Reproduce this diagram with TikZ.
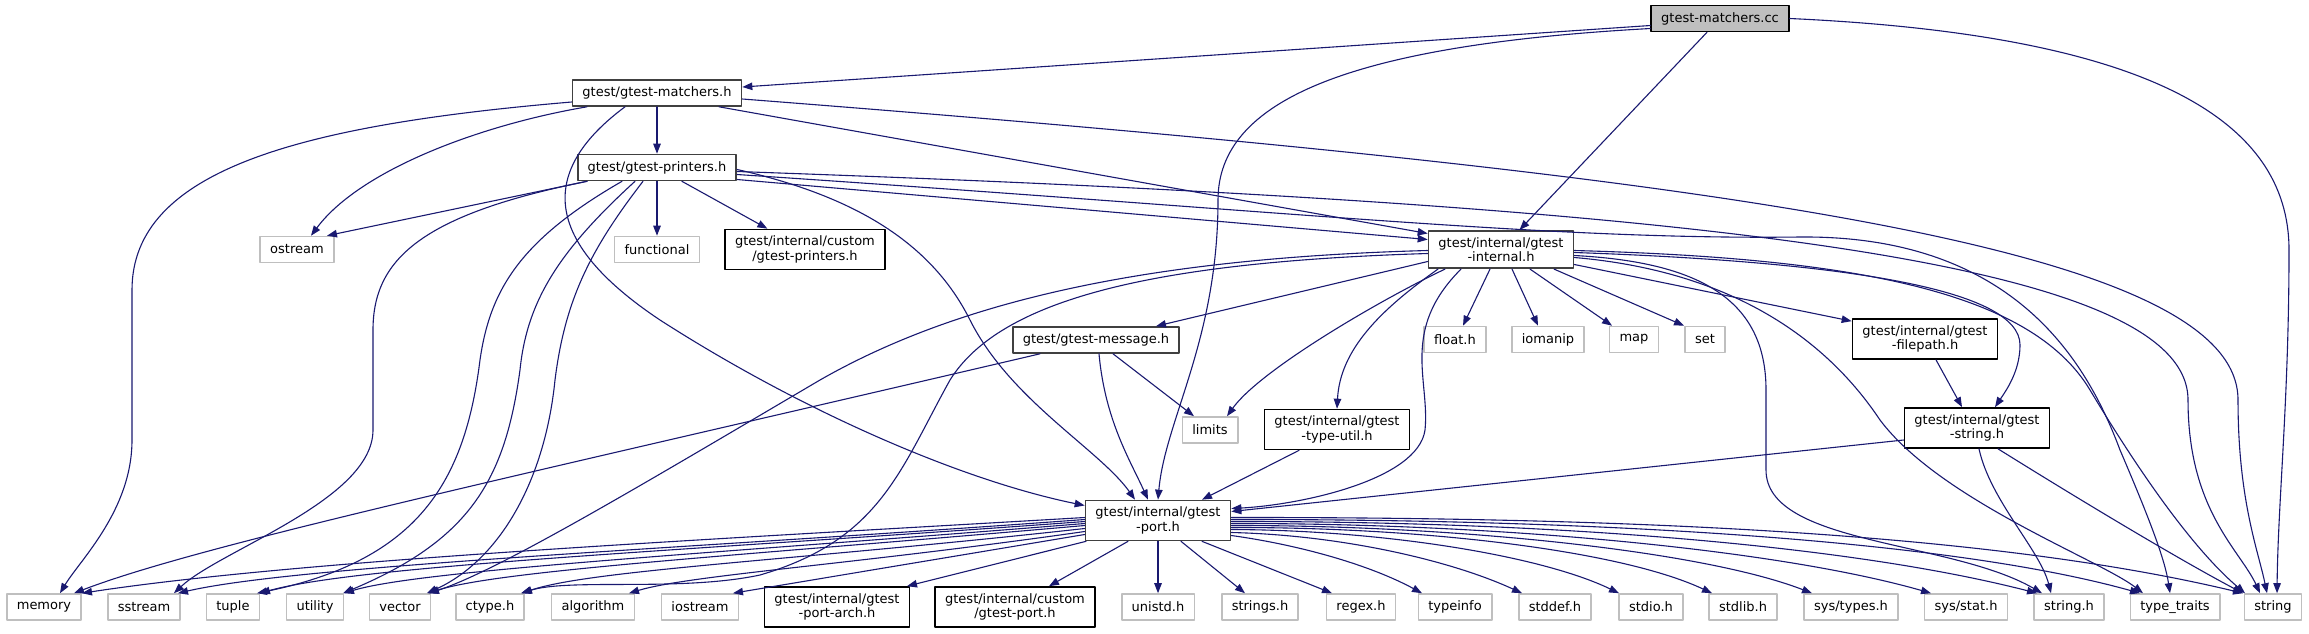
\documentclass[tikz,border=0pt]{standalone}
\usepackage{fontspec}
\setmainfont{DejaVu Sans}
\usetikzlibrary{arrows.meta}
\definecolor{edgeblue}{HTML}{191970}
\definecolor{boxgray}{HTML}{BFBFBF}
\definecolor{docgray}{HTML}{404040}
\begin{document}
\begin{tikzpicture}[line cap=round,line join=round,>={Triangle[length=10pt,width=7.5pt]},x=1pt,y=-1pt,
		every node/.style={font=\fontsize{13}{14.5}\selectfont,inner xsep=10pt,inner ysep=6.5pt,minimum height=26pt,align=center,line width=1.6pt},
		hdr/.style={draw=docgray,fill=white},
		leaf/.style={draw=black,fill=white},
		sys/.style={draw=boxgray,fill=white},
		root/.style={draw=black,fill=boxgray},
		dep/.style={draw=edgeblue,line width=1.1pt,->}]
		\useasboundingbox (0,0) rectangle (2309,633);
		% top rows
		\node[root] (mcc) at (1720,18.5) {gtest-matchers.cc};
		\node[hdr] (mh) at (657,93) {gtest/gtest-matchers.h};
		\node[hdr] (pr) at (657,167.5) {gtest/gtest-printers.h};
		\node[sys] (ostream) at (297,249.5) {ostream};
		\node[sys] (functional) at (657,249.5) {functional};
		\node[leaf] (cpr) at (805,249.5) {gtest/internal/custom\\/gtest-printers.h};
		\node[hdr] (ih) at (1501,249.5) {gtest/internal/gtest\\-internal.h};
		\node[hdr] (msg) at (1096,340) {gtest/gtest-message.h};
		\node[sys] (float) at (1455,339.5) {float.h};
		\node[sys] (iomanip) at (1548,339.5) {iomanip};
		\node[sys] (map) at (1634,339.5) {map};
		\node[sys] (set) at (1705,339.5) {set};
		\node[leaf] (fp) at (1925,339) {gtest/internal/gtest\\-filepath.h};
		\node[sys] (limits) at (1210,430) {limits};
		\node[leaf] (tu) at (1337,429.5) {gtest/internal/gtest\\-type-util.h};
		\node[leaf] (gs) at (1977,428) {gtest/internal/gtest\\-string.h};
		\node[hdr] (ph) at (1158,520.5) {gtest/internal/gtest\\-port.h};
		% bottom row
		\node[sys] (memory) at (44,607) {memory};
		\node[sys] (sstream) at (144,607) {sstream};
		\node[sys] (tuple) at (233,607) {tuple};
		\node[sys] (utility) at (315,607) {utility};
		\node[sys] (vector) at (400,607) {vector};
		\node[sys] (ctype) at (490,607) {ctype.h};
		\node[sys] (algorithm) at (593,607) {algorithm};
		\node[sys] (iostream) at (700,607) {iostream};
		\node[leaf] (pa) at (837,607) {gtest/internal/gtest\\-port-arch.h};
		\node[leaf] (cport) at (1015,607) {gtest/internal/custom\\/gtest-port.h};
		\node[sys] (unistd) at (1158,607) {unistd.h};
		\node[sys] (strings) at (1260,607) {strings.h};
		\node[sys] (regex) at (1361,607) {regex.h};
		\node[sys] (typeinfo) at (1455,607) {typeinfo};
		\node[sys] (stddef) at (1555,607) {stddef.h};
		\node[sys] (stdio) at (1651,607) {stdio.h};
		\node[sys] (stdlib) at (1743,607) {stdlib.h};
		\node[sys] (systypes) at (1851,607) {sys/types.h};
		\node[sys] (sysstat) at (1966,607) {sys/stat.h};
		\node[sys] (sh) at (2069,607) {string.h};
		\node[sys] (tt) at (2175,607) {type\_traits};
		\node[sys] (str) at (2273,607) {string};
		% gtest-matchers.cc
		\draw[dep] ([yshift=-7pt]mcc.west) -- ([yshift=6pt]mh.east);
		\draw[dep] ([yshift=-10pt]mcc.west) .. controls (1350,45) and (1218,100) .. (1218,200) .. controls (1218,340) and (1165,420) .. (ph.north);
		\draw[dep] (mcc) -- (ih);
		\draw[dep] (mcc.east) .. controls (2150,35) and (2289,120) .. (2289,250) .. controls (2289,400) and (2278,500) .. ([xshift=4pt]str.north);
		% gtest-matchers.h
		\draw[dep] (mh) -- (pr);
		\draw[dep] ([xshift=-70pt]mh.south) .. controls (480,125) and (360,170) .. ([xshift=14pt]ostream.north);
		\draw[dep] ([yshift=-9pt]mh.west) .. controls (300,125) and (132,170) .. (132,290) -- (132,440) .. controls (132,510) and (80,560) .. ([xshift=16pt]memory.north);
		\draw[dep] ([xshift=-32pt]mh.south) .. controls (540,170) and (540,240) .. (660,320) .. controls (800,410) and (960,480) .. ([yshift=15pt]ph.west);
		\draw[dep] ([xshift=62pt]mh.south) -- ([yshift=16pt]ih.west);
		\draw[dep] ([yshift=-6pt]mh.east) .. controls (1750,177) and (2238,250) .. (2238,400) .. controls (2238,500) and (2258,550) .. ([xshift=-6pt]str.north);
		% gtest-printers.h
		\draw[dep] ([xshift=-70pt]pr.south) -- ([xshift=30pt]ostream.north);
		\draw[dep] (pr) -- (functional);
		\draw[dep] (pr) -- (cpr);
		\draw[dep] ([yshift=-12pt]pr.east) -- ([yshift=10pt]ih.west);
		\draw[dep] ([yshift=-2pt]pr.east) .. controls (850,195) and (930,240) .. (970,320) .. controls (1010,400) and (1100,450) .. ([xshift=-23pt]ph.north);
		\draw[dep] ([yshift=-4pt]pr.east) .. controls (1700,205) and (2188,260) .. (2188,400) .. controls (2188,510) and (2240,550) .. ([xshift=-13pt]str.north);
		\draw[dep] ([yshift=-7pt]pr.east) .. controls (1300,212) and (1550,240) .. (1800,237) .. controls (2020,235) and (2090,370) .. (2120,450) .. controls (2150,520) and (2165,560) .. ([xshift=-5pt]tt.north);
		\draw[dep] ([xshift=-70pt]pr.south) .. controls (420,215) and (373,260) .. (373,330) -- (373,430) .. controls (373,500) and (220,550) .. ([xshift=30pt]sstream.north);
		\draw[dep] ([xshift=-35pt]pr.south) .. controls (520,240) and (490,290) .. (480,360) .. controls (465,480) and (420,560) .. ([xshift=24pt]tuple.north);
		\draw[dep] ([xshift=-22pt]pr.south) .. controls (560,250) and (527,300) .. (520,370) .. controls (505,480) and (470,540) .. ([xshift=28pt]utility.north);
		\draw[dep] ([xshift=-14pt]pr.south) .. controls (590,250) and (565,300) .. (555,380) .. controls (545,480) and (500,560) .. ([xshift=27pt]vector.north);
		% gtest-internal.h
		\draw[dep] ([yshift=-12pt]ih.west) -- ([xshift=60pt]msg.north);
		\draw[dep] ([xshift=-56pt]ih.south) .. controls (1380,300) and (1260,370) .. ([xshift=17pt]limits.north);
		\draw[dep] ([xshift=-63pt]ih.south) .. controls (1380,310) and (1340,350) .. (tu.north);
		\draw[dep] ([xshift=-40pt]ih.south) .. controls (1400,330) and (1430,380) .. (1425,430) .. controls (1418,480) and (1300,505) .. ([yshift=12pt]ph.east);
		\draw[dep] ([yshift=-1pt]ih.west) .. controls (1150,258) and (960,300) .. (820,380) .. controls (650,480) and (500,570) .. ([xshift=29pt]vector.north);
		\draw[dep] ([yshift=-4pt]ih.west) .. controls (1150,262) and (1000,300) .. (950,380) .. controls (900,470) and (880,540) .. (760,575) .. controls (680,592) and (570,578) .. ([xshift=31pt]ctype.north);
		\draw[dep] ([xshift=-11pt]ih.south) -- ([xshift=8pt]float.north);
		\draw[dep] ([xshift=11pt]ih.south) -- ([xshift=-10pt]iomanip.north);
		\draw[dep] ([xshift=29pt]ih.south) -- ([xshift=-22pt]map.north);
		\draw[dep] ([xshift=53pt]ih.south) -- ([xshift=-21pt]set.north);
		\draw[dep] ([yshift=-15pt]ih.east) -- ([yshift=-3pt]fp.north west);
		\draw[dep] ([yshift=-3pt]ih.east) .. controls (1850,262) and (2020,290) .. (2020,345) .. controls (2020,372) and (2005,392) .. ([xshift=18pt]gs.north);
		\draw[dep] ([yshift=-6pt]ih.east) .. controls (1700,262) and (1766,300) .. (1766,390) -- (1766,470) .. controls (1766,545) and (1950,540) .. ([xshift=-27pt]sh.north);
		\draw[dep] ([yshift=-8pt]ih.east) .. controls (1720,270) and (1820,330) .. (1880,420) .. controls (1940,500) and (2100,560) .. ([xshift=-32pt]tt.north);
		\draw[dep] ([yshift=-1pt]ih.east) .. controls (1850,258) and (2030,290) .. (2090,390) .. controls (2150,490) and (2200,555) .. ([xshift=-28pt]str.north);
		% gtest-string.h, gtest-filepath.h, gtest-type-util.h
		\draw[dep] ([yshift=-12pt]gs.west) -- ([yshift=9pt]ph.east);
		\draw[dep] ([xshift=2pt]gs.south) .. controls (1990,500) and (2040,550) .. ([xshift=-18pt]sh.north);
		\draw[dep] ([xshift=21pt]gs.south) .. controls (2080,500) and (2180,560) .. ([xshift=-30pt]str.north);
		\draw[dep] ([xshift=11pt]fp.south) -- ([xshift=-15pt]gs.north);
		\draw[dep] ([xshift=-38pt]tu.south) -- ([xshift=44pt]ph.north);
		% gtest-message.h
		\draw[dep] ([xshift=-56pt]msg.south) .. controls (500,480) and (200,545) .. ([xshift=30pt]memory.north);
		\draw[dep] ([xshift=3pt]msg.south) .. controls (1105,420) and (1130,460) .. ([xshift=-10pt]ph.north);
		\draw[dep] ([xshift=17pt]msg.south) -- ([xshift=-16pt]limits.north);
		% gtest-port.h, left
		\draw[dep] ([yshift=3pt]ph.west) .. controls (700,540) and (300,560) .. ([xshift=38pt]memory.north);
		\draw[dep] ([yshift=1pt]ph.west) .. controls (700,548) and (300,565) .. ([xshift=34pt]sstream.north);
		\draw[dep] ([yshift=-1pt]ph.west) .. controls (700,550) and (360,565) .. ([xshift=27pt]tuple.north);
		\draw[dep] ([yshift=-3pt]ph.west) .. controls (720,553) and (420,570) .. ([xshift=29pt]utility.north);
		\draw[dep] ([yshift=-5pt]ph.west) .. controls (750,555) and (500,570) .. ([xshift=28pt]vector.north);
		\draw[dep] ([yshift=-8pt]ph.west) .. controls (800,560) and (590,570) .. ([xshift=32pt]ctype.north);
		\draw[dep] ([yshift=-11pt]ph.west) .. controls (850,565) and (690,575) .. ([xshift=36pt]algorithm.north);
		\draw[dep] ([yshift=-14pt]ph.west) -- ([xshift=33pt]iostream.north);
		\draw[dep] ([xshift=-72pt]ph.south) -- ([xshift=70pt]pa.north);
		\draw[dep] ([xshift=-30pt]ph.south) -- ([xshift=34pt]cport.north);
		\draw[dep] (ph) -- (unistd);
		\draw[dep] ([xshift=23pt]ph.south) -- ([xshift=-15pt]strings.north);
		\draw[dep] ([xshift=44pt]ph.south) -- ([xshift=-29pt]regex.north);
		% gtest-port.h, right
		\draw[dep] ([yshift=-15pt]ph.east) .. controls (1300,545) and (1370,565) .. ([xshift=-33pt]typeinfo.north);
		\draw[dep] ([yshift=-12pt]ph.east) .. controls (1340,535) and (1450,560) .. ([xshift=-33pt]stddef.north);
		\draw[dep] ([yshift=-9pt]ph.east) .. controls (1380,530) and (1540,555) .. ([xshift=-32pt]stdio.north);
		\draw[dep] ([yshift=-7pt]ph.east) .. controls (1420,527) and (1620,550) .. ([xshift=-31pt]stdlib.north);
		\draw[dep] ([yshift=-5pt]ph.east) .. controls (1450,525) and (1700,550) .. ([xshift=-39pt]systypes.north);
		\draw[dep] ([yshift=-3pt]ph.east) .. controls (1500,523) and (1780,550) .. ([xshift=-35pt]sysstat.north);
		\draw[dep] ([yshift=-1pt]ph.east) .. controls (1550,521) and (1850,545) .. ([xshift=-32pt]sh.north);
		\draw[dep] ([yshift=1pt]ph.east) .. controls (1600,519) and (1950,540) .. ([xshift=-35pt]tt.north);
		\draw[dep] ([yshift=3pt]ph.east) .. controls (1650,517) and (2000,535) .. ([xshift=-30pt]str.north);
	\end{tikzpicture}
\end{document}
